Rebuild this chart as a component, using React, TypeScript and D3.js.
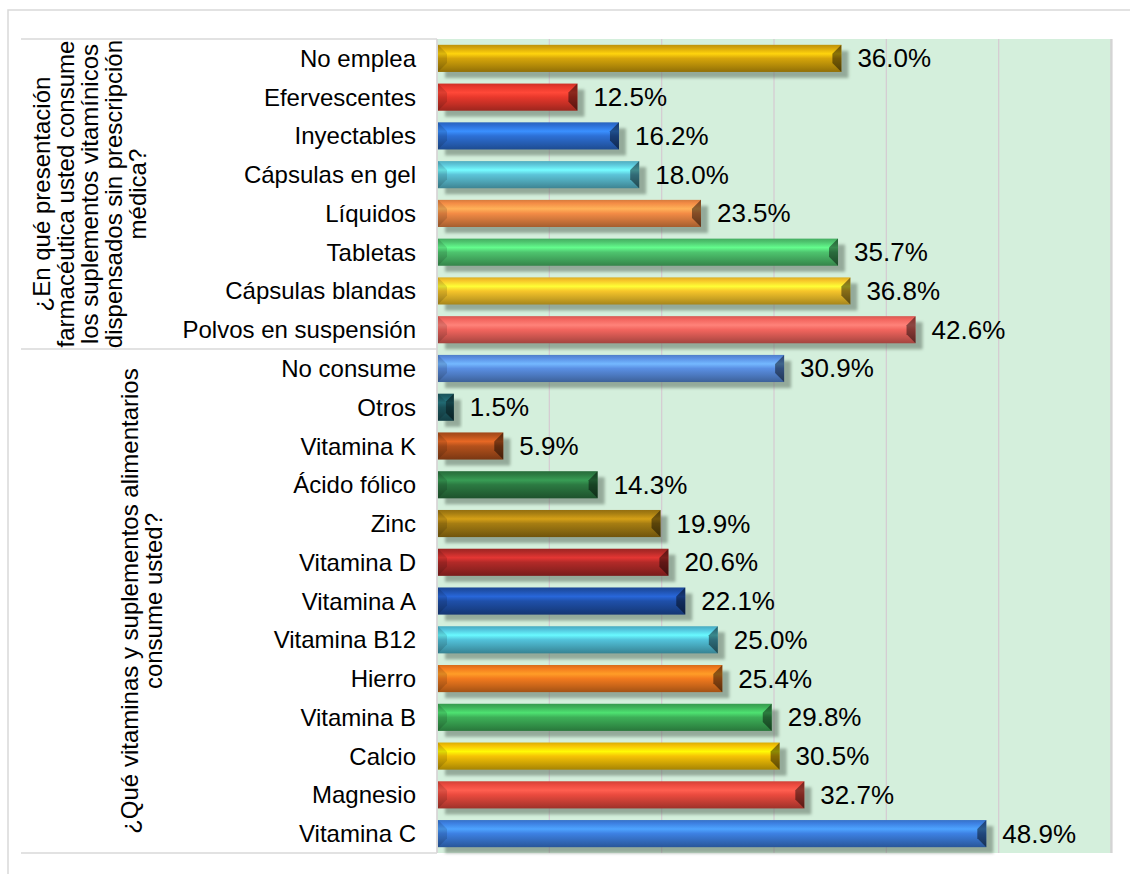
import React from "react";
import * as d3 from "d3";

const groupTitles = [
  ["¿En qué presentación", "farmacéutica usted consume", "los suplementos vitamínicos", "dispensados sin prescripción", "médica?"],
  ["¿Qué vitaminas y suplementos alimentarios", "consume usted?"],
];

const presentationLabels = [
  "No emplea", "Efervescentes", "Inyectables", "Cápsulas en gel", "Líquidos",
  "Tabletas", "Cápsulas blandas", "Polvos en suspensión",
];
const presentationValues = [36.0, 12.5, 16.2, 18.0, 23.5, 35.7, 36.8, 42.6];

const vitaminLabels = [
  "No consume", "Otros", "Vitamina K", "Ácido fólico", "Zinc", "Vitamina D",
  "Vitamina A", "Vitamina B12", "Hierro", "Vitamina B", "Calcio", "Magnesio", "Vitamina C",
];
const vitaminValues = [30.9, 1.5, 5.9, 14.3, 19.9, 20.6, 22.1, 25.0, 25.4, 29.8, 30.5, 32.7, 48.9];

const xTicks = [0, 10, 20, 30, 40, 50, 60];

const palette = [
  "#D6A50A", "#E8382C", "#2D70D6", "#5CC4D8", "#F38B45", "#4EC46E", "#F7C62A", "#F2655E",
  "#5A8FE3", "#1E5E66", "#B4511C", "#2C7A42", "#A67D12", "#B22A28", "#1F50AA", "#52C2DA",
  "#F27A1E", "#3DB058", "#F6C305", "#EA4A3E", "#3D80E2",
];

const FONT = "'Liberation Sans', Arial, sans-serif";

export default function App() {
  const W = 1130, H = 874;
  const plotL = 437, plotR = 1111, plotT = 39, plotB = 853;
  const rows = [
    ...presentationLabels.map((l, i) => ({ key: "p" + i, label: l, value: presentationValues[i], group: 0 })),
    ...vitaminLabels.map((l, i) => ({ key: "v" + i, label: l, value: vitaminValues[i], group: 1 })),
  ];
  const y = d3.scaleBand<string>().domain(rows.map((r) => r.key)).range([plotT, plotB]).paddingInner(0.3).paddingOuter(0.15);
  const x = d3.scaleLinear().domain([0, 60]).range([plotL, plotR]);
  const bh = y.bandwidth();
  const sepY = (y(rows[7].key)! + bh / 2 + y(rows[8].key)! + bh / 2) / 2;

  const grads = palette.map((c, i) => {
    const base = d3.color(c)!;
    return (
      <linearGradient key={i} id={"g" + i} x1="0" y1="0" x2="0" y2="1">
        <stop offset="0" stopColor={base.darker(0.35).formatHex()} />
        <stop offset="0.12" stopColor={base.formatHex()} />
        <stop offset="0.33" stopColor={base.brighter(0.7).formatHex()} />
        <stop offset="0.5" stopColor={base.formatHex()} />
        <stop offset="0.78" stopColor={base.darker(0.55).formatHex()} />
        <stop offset="1" stopColor={base.darker(1.1).formatHex()} />
      </linearGradient>
    );
  });

  const g1c = (plotT + sepY) / 2;
  const g2c = (sepY + plotB) / 2;
  const g1x = [41, 65, 89, 113, 137];
  const g2x = [129, 153];

  return (
    <svg width={W} height={H} style={{ position: "absolute", left: 0, top: 0, fontFamily: FONT }}>
      <defs>
        {grads}
        <filter id="blur" x="-10%" y="-30%" width="120%" height="160%">
          <feGaussianBlur stdDeviation="1.4" />
        </filter>
      </defs>
      <rect x={0} y={0} width={W} height={H} fill="#fff" />
      {/* chart frame */}
      <rect x={8} y={10} width={W + 20} height={H + 20} fill="none" stroke="#d9d9d9" strokeWidth={1.5} />
      {/* plot background */}
      <rect x={plotL} y={plotT} width={plotR - plotL} height={plotB - plotT} fill="#D4EFDC" />
      {xTicks.map((t) => (
        <line key={t} x1={x(t)} x2={x(t)} y1={plotT} y2={plotB} stroke="#d5cdd2" strokeWidth={1.3} />
      ))}
      <line x1={plotR + 0.8} x2={plotR + 0.8} y1={plotT} y2={plotB} stroke="#d4d4d4" strokeWidth={1.6} />
      {/* category axis separators */}
      {[plotT, sepY, plotB].map((yy, i) => (
        <line key={i} x1={21} x2={plotL} y1={yy} y2={yy} stroke="#d9d9d9" strokeWidth={1.5} />
      ))}
      <line x1={plotL} x2={plotL} y1={plotT} y2={plotB} stroke="#d9d9d9" strokeWidth={1.2} />
      {/* bars */}
      {rows.map((r, i) => {
        const y0 = y(r.key)!;
        const x0 = x(0) + 1;
        const x1 = x(r.value);
        const w = x1 - x0;
        const b = Math.min(9, w / 2, bh / 2);
        const y1 = y0 + bh;
        return (
          <g key={r.key}>
            <rect x={x0 + 7} y={y0 + 6} width={w} height={bh} fill="#56685a" opacity={0.5} filter="url(#blur)" />
            <rect x={x0} y={y0} width={w} height={bh} fill={`url(#g${i})`} />
            <polygon points={`${x0},${y0} ${x0 + b},${y0 + b} ${x0 + b},${y1 - b} ${x0},${y1}`} fill="#000" opacity={0.13} />
            <polygon points={`${x1},${y0} ${x1 - b},${y0 + b} ${x1 - b},${y1 - b} ${x1},${y1}`} fill="#000" opacity={0.45} />
            <text x={x1 + 16} y={y0 + bh / 2} dominantBaseline="central" fontSize={26} fill="#000">
              {r.value.toFixed(1)}%
            </text>
            <text x={416} y={y0 + bh / 2} dominantBaseline="central" textAnchor="end" fontSize={24} fill="#000">
              {r.label}
            </text>
          </g>
        );
      })}
      {/* group titles */}
      {groupTitles[0].map((t, i) => (
        <text key={"a" + i} transform={`translate(${g1x[i]},${g1c}) rotate(-90)`} textAnchor="middle" dominantBaseline="central" fontSize={24}>
          {t}
        </text>
      ))}
      {groupTitles[1].map((t, i) => (
        <text key={"b" + i} transform={`translate(${g2x[i]},${g2c}) rotate(-90)`} textAnchor="middle" dominantBaseline="central" fontSize={24}>
          {t}
        </text>
      ))}
    </svg>
  );
}
